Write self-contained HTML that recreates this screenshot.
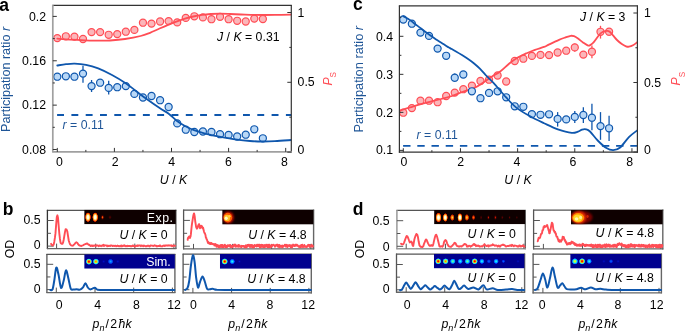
<!DOCTYPE html>
<html><head><meta charset="utf-8"><style>html,body{margin:0;padding:0;background:#fff;width:685px;height:332px;overflow:hidden}svg{display:block;will-change:transform}</style></head>
<body>
<svg width="685" height="332" viewBox="0 0 685 332" font-family='"Liberation Sans", sans-serif'>
<rect width="685" height="332" fill="#fff"/>
<defs>
<filter id="bl1" x="-50%" y="-50%" width="200%" height="200%"><feGaussianBlur stdDeviation="0.6"/></filter>
<filter id="bl2" x="-50%" y="-50%" width="200%" height="200%"><feGaussianBlur stdDeviation="1.0"/></filter>
<radialGradient id="jetR"><stop offset="0" stop-color="#c00000"/><stop offset="0.25" stop-color="#ff3000"/><stop offset="0.45" stop-color="#ffd000"/><stop offset="0.65" stop-color="#40ffc0"/><stop offset="0.85" stop-color="#0060ff"/><stop offset="1" stop-color="#00008f" stop-opacity="0"/></radialGradient>
<radialGradient id="jetO"><stop offset="0" stop-color="#ff6000"/><stop offset="0.3" stop-color="#ffd000"/><stop offset="0.6" stop-color="#40ffc0"/><stop offset="0.85" stop-color="#0060ff"/><stop offset="1" stop-color="#00008f" stop-opacity="0"/></radialGradient>
<radialGradient id="jetY"><stop offset="0" stop-color="#f0ff10"/><stop offset="0.35" stop-color="#a0ff60"/><stop offset="0.6" stop-color="#00e0ff"/><stop offset="0.85" stop-color="#0050ff"/><stop offset="1" stop-color="#00008f" stop-opacity="0"/></radialGradient>
<radialGradient id="jetC"><stop offset="0" stop-color="#30ffff"/><stop offset="0.45" stop-color="#00b0ff"/><stop offset="0.8" stop-color="#0030ff"/><stop offset="1" stop-color="#00008f" stop-opacity="0"/></radialGradient>
<radialGradient id="jetB"><stop offset="0" stop-color="#0070ff"/><stop offset="0.6" stop-color="#0020e0"/><stop offset="1" stop-color="#00008f" stop-opacity="0"/></radialGradient>
<radialGradient id="jetM"><stop offset="0" stop-color="#10a8ff"/><stop offset="0.5" stop-color="#0060ff"/><stop offset="0.85" stop-color="#0020d0"/><stop offset="1" stop-color="#00008f" stop-opacity="0"/></radialGradient>
<radialGradient id="jetG"><stop offset="0" stop-color="#90ff70"/><stop offset="0.35" stop-color="#20f0e0"/><stop offset="0.65" stop-color="#00a0ff"/><stop offset="0.88" stop-color="#0030f0"/><stop offset="1" stop-color="#00008f" stop-opacity="0"/></radialGradient>
<radialGradient id="jetD"><stop offset="0" stop-color="#0010d0"/><stop offset="1" stop-color="#00008f" stop-opacity="0"/></radialGradient>
<radialGradient id="hotW"><stop offset="0" stop-color="#ffffff"/><stop offset="0.35" stop-color="#fff8d8"/><stop offset="0.55" stop-color="#ffd050"/><stop offset="0.75" stop-color="#ff6000"/><stop offset="0.9" stop-color="#c01000"/><stop offset="1" stop-color="#1a0000" stop-opacity="0"/></radialGradient>
<radialGradient id="hotY"><stop offset="0" stop-color="#ffe060"/><stop offset="0.4" stop-color="#ff8000"/><stop offset="0.8" stop-color="#b01000"/><stop offset="1" stop-color="#1a0000" stop-opacity="0"/></radialGradient>
<radialGradient id="hotO"><stop offset="0" stop-color="#ff7000"/><stop offset="0.5" stop-color="#d02000"/><stop offset="1" stop-color="#1a0000" stop-opacity="0"/></radialGradient>
<radialGradient id="hotR"><stop offset="0" stop-color="#e01800"/><stop offset="1" stop-color="#1a0000" stop-opacity="0"/></radialGradient>
<radialGradient id="hotD"><stop offset="0" stop-color="#700000"/><stop offset="1" stop-color="#1a0000" stop-opacity="0"/></radialGradient>
</defs>
<line x1="57.10" y1="115.00" x2="291.30" y2="115.00" stroke="#0f57ad" stroke-width="1.80" stroke-dasharray="6.9 7.4"/>
<circle cx="57.30" cy="38.10" r="3.55" fill="#fbb6ba" stroke="#ff4d55" stroke-width="1.20"/>
<circle cx="65.86" cy="36.30" r="3.55" fill="#fbb6ba" stroke="#ff4d55" stroke-width="1.20"/>
<circle cx="74.43" cy="36.60" r="3.55" fill="#fbb6ba" stroke="#ff4d55" stroke-width="1.20"/>
<circle cx="82.99" cy="39.00" r="3.55" fill="#fbb6ba" stroke="#ff4d55" stroke-width="1.20"/>
<circle cx="91.56" cy="32.10" r="3.55" fill="#fbb6ba" stroke="#ff4d55" stroke-width="1.20"/>
<circle cx="100.12" cy="32.10" r="3.55" fill="#fbb6ba" stroke="#ff4d55" stroke-width="1.20"/>
<circle cx="108.69" cy="34.80" r="3.55" fill="#fbb6ba" stroke="#ff4d55" stroke-width="1.20"/>
<circle cx="117.25" cy="34.10" r="3.55" fill="#fbb6ba" stroke="#ff4d55" stroke-width="1.20"/>
<circle cx="125.82" cy="31.70" r="3.55" fill="#fbb6ba" stroke="#ff4d55" stroke-width="1.20"/>
<circle cx="134.38" cy="29.90" r="3.55" fill="#fbb6ba" stroke="#ff4d55" stroke-width="1.20"/>
<circle cx="142.95" cy="22.70" r="3.55" fill="#fbb6ba" stroke="#ff4d55" stroke-width="1.20"/>
<circle cx="151.51" cy="23.60" r="3.55" fill="#fbb6ba" stroke="#ff4d55" stroke-width="1.20"/>
<circle cx="160.08" cy="21.50" r="3.55" fill="#fbb6ba" stroke="#ff4d55" stroke-width="1.20"/>
<circle cx="168.64" cy="21.10" r="3.55" fill="#fbb6ba" stroke="#ff4d55" stroke-width="1.20"/>
<circle cx="177.21" cy="22.40" r="3.55" fill="#fbb6ba" stroke="#ff4d55" stroke-width="1.20"/>
<circle cx="185.77" cy="17.90" r="3.55" fill="#fbb6ba" stroke="#ff4d55" stroke-width="1.20"/>
<circle cx="194.34" cy="16.30" r="3.55" fill="#fbb6ba" stroke="#ff4d55" stroke-width="1.20"/>
<circle cx="202.90" cy="17.40" r="3.55" fill="#fbb6ba" stroke="#ff4d55" stroke-width="1.20"/>
<circle cx="211.47" cy="19.20" r="3.55" fill="#fbb6ba" stroke="#ff4d55" stroke-width="1.20"/>
<circle cx="220.04" cy="16.80" r="3.55" fill="#fbb6ba" stroke="#ff4d55" stroke-width="1.20"/>
<circle cx="228.60" cy="19.20" r="3.55" fill="#fbb6ba" stroke="#ff4d55" stroke-width="1.20"/>
<circle cx="237.17" cy="20.80" r="3.55" fill="#fbb6ba" stroke="#ff4d55" stroke-width="1.20"/>
<circle cx="245.73" cy="21.50" r="3.55" fill="#fbb6ba" stroke="#ff4d55" stroke-width="1.20"/>
<circle cx="254.29" cy="18.60" r="3.55" fill="#fbb6ba" stroke="#ff4d55" stroke-width="1.20"/>
<circle cx="262.86" cy="19.00" r="3.55" fill="#fbb6ba" stroke="#ff4d55" stroke-width="1.20"/>
<clipPath id="cla"><rect x="52.8" y="5.4" width="238.5" height="146.5"/></clipPath>
<g clip-path="url(#cla)">
<path d="M57.30,38.60 C59.42,38.77 65.38,39.32 70.00,39.60 C74.62,39.88 80.00,40.12 85.00,40.30 C90.00,40.48 95.83,40.67 100.00,40.70 C104.17,40.73 105.83,40.78 110.00,40.50 C114.17,40.22 119.90,39.75 125.00,39.00 C130.10,38.25 136.43,37.03 140.60,36.00 C144.77,34.97 147.08,33.93 150.00,32.80 C152.92,31.67 155.27,30.45 158.10,29.20 C160.93,27.95 164.08,26.53 167.00,25.30 C169.92,24.07 172.60,22.92 175.60,21.80 C178.60,20.68 182.07,19.48 185.00,18.60 C187.93,17.72 190.37,17.12 193.20,16.50 C196.03,15.88 199.08,15.32 202.00,14.90 C204.92,14.48 207.70,14.20 210.70,14.00 C213.70,13.80 216.78,13.70 220.00,13.70 C223.22,13.70 225.83,13.83 230.00,14.00 C234.17,14.17 239.47,14.53 245.00,14.70 C250.53,14.87 257.37,14.98 263.20,15.00 C269.03,15.02 275.27,14.85 280.00,14.80 C284.73,14.75 289.67,14.72 291.60,14.70" fill="none" stroke="#ff4d55" stroke-width="1.80" stroke-linejoin="round" stroke-linecap="round" />
</g>
<line x1="74.43" y1="74.20" x2="74.43" y2="79.60" stroke="#0f57ad" stroke-width="1.30" />
<line x1="82.99" y1="65.80" x2="82.99" y2="82.80" stroke="#0f57ad" stroke-width="1.30" />
<line x1="91.56" y1="80.00" x2="91.56" y2="92.00" stroke="#0f57ad" stroke-width="1.30" />
<line x1="108.69" y1="80.80" x2="108.69" y2="94.40" stroke="#0f57ad" stroke-width="1.30" />
<line x1="125.82" y1="83.00" x2="125.82" y2="89.50" stroke="#0f57ad" stroke-width="1.30" />
<circle cx="57.30" cy="76.70" r="3.55" fill="#b9d8f7" stroke="#0f57ad" stroke-width="1.20"/>
<circle cx="65.86" cy="76.30" r="3.55" fill="#b9d8f7" stroke="#0f57ad" stroke-width="1.20"/>
<circle cx="74.43" cy="76.70" r="3.55" fill="#b9d8f7" stroke="#0f57ad" stroke-width="1.20"/>
<circle cx="82.99" cy="73.60" r="3.55" fill="#b9d8f7" stroke="#0f57ad" stroke-width="1.20"/>
<circle cx="91.56" cy="86.10" r="3.55" fill="#b9d8f7" stroke="#0f57ad" stroke-width="1.20"/>
<circle cx="100.12" cy="82.70" r="3.55" fill="#b9d8f7" stroke="#0f57ad" stroke-width="1.20"/>
<circle cx="108.69" cy="87.90" r="3.55" fill="#b9d8f7" stroke="#0f57ad" stroke-width="1.20"/>
<circle cx="117.25" cy="87.20" r="3.55" fill="#b9d8f7" stroke="#0f57ad" stroke-width="1.20"/>
<circle cx="125.82" cy="86.10" r="3.55" fill="#b9d8f7" stroke="#0f57ad" stroke-width="1.20"/>
<circle cx="134.38" cy="93.90" r="3.55" fill="#b9d8f7" stroke="#0f57ad" stroke-width="1.20"/>
<circle cx="142.95" cy="97.50" r="3.55" fill="#b9d8f7" stroke="#0f57ad" stroke-width="1.20"/>
<circle cx="151.51" cy="96.00" r="3.55" fill="#b9d8f7" stroke="#0f57ad" stroke-width="1.20"/>
<circle cx="160.08" cy="100.20" r="3.55" fill="#b9d8f7" stroke="#0f57ad" stroke-width="1.20"/>
<circle cx="168.64" cy="107.00" r="3.55" fill="#b9d8f7" stroke="#0f57ad" stroke-width="1.20"/>
<circle cx="177.21" cy="123.40" r="3.55" fill="#b9d8f7" stroke="#0f57ad" stroke-width="1.20"/>
<circle cx="185.77" cy="129.70" r="3.55" fill="#b9d8f7" stroke="#0f57ad" stroke-width="1.20"/>
<circle cx="194.34" cy="132.00" r="3.55" fill="#b9d8f7" stroke="#0f57ad" stroke-width="1.20"/>
<circle cx="202.90" cy="131.50" r="3.55" fill="#b9d8f7" stroke="#0f57ad" stroke-width="1.20"/>
<circle cx="211.47" cy="132.00" r="3.55" fill="#b9d8f7" stroke="#0f57ad" stroke-width="1.20"/>
<circle cx="220.04" cy="134.20" r="3.55" fill="#b9d8f7" stroke="#0f57ad" stroke-width="1.20"/>
<circle cx="228.60" cy="134.90" r="3.55" fill="#b9d8f7" stroke="#0f57ad" stroke-width="1.20"/>
<circle cx="237.17" cy="136.50" r="3.55" fill="#b9d8f7" stroke="#0f57ad" stroke-width="1.20"/>
<circle cx="245.73" cy="134.70" r="3.55" fill="#b9d8f7" stroke="#0f57ad" stroke-width="1.20"/>
<circle cx="254.29" cy="129.30" r="3.55" fill="#b9d8f7" stroke="#0f57ad" stroke-width="1.20"/>
<circle cx="262.86" cy="138.30" r="3.55" fill="#b9d8f7" stroke="#0f57ad" stroke-width="1.20"/>
<g clip-path="url(#cla)">
<path d="M57.30,65.50 C58.75,65.28 63.10,64.52 66.00,64.20 C68.90,63.88 71.37,63.50 74.70,63.60 C78.03,63.70 82.08,64.00 86.00,64.80 C89.92,65.60 93.87,66.70 98.20,68.40 C102.53,70.10 107.48,72.57 112.00,75.00 C116.52,77.43 121.30,80.33 125.30,83.00 C129.30,85.67 132.38,88.28 136.00,91.00 C139.62,93.72 143.00,96.42 147.00,99.30 C151.00,102.18 156.38,105.90 160.00,108.30 C163.62,110.70 165.87,111.58 168.70,113.70 C171.53,115.82 174.28,118.95 177.00,121.00 C179.72,123.05 182.17,124.47 185.00,126.00 C187.83,127.53 190.50,128.90 194.00,130.20 C197.50,131.50 201.77,132.73 206.00,133.80 C210.23,134.87 214.25,135.63 219.40,136.60 C224.55,137.57 231.80,138.87 236.90,139.60 C242.00,140.33 245.87,140.68 250.00,141.00 C254.13,141.32 257.53,141.47 261.70,141.50 C265.87,141.53 270.02,141.45 275.00,141.20 C279.98,140.95 288.83,140.20 291.60,140.00" fill="none" stroke="#0f57ad" stroke-width="1.80" stroke-linejoin="round" stroke-linecap="round" />
</g>
<line x1="52.30" y1="5.40" x2="291.80" y2="5.40" stroke="#333333" stroke-width="1.20" />
<line x1="291.30" y1="4.90" x2="291.30" y2="152.40" stroke="#333333" stroke-width="1.20" />
<line x1="52.80" y1="4.90" x2="52.80" y2="152.40" stroke="#a0a0a0" stroke-width="1.70" />
<line x1="52.30" y1="151.90" x2="291.80" y2="151.90" stroke="#a0a0a0" stroke-width="1.60" />
<line x1="52.80" y1="16.40" x2="56.80" y2="16.40" stroke="#333333" stroke-width="1.00" />
<line x1="52.80" y1="60.77" x2="56.80" y2="60.77" stroke="#333333" stroke-width="1.00" />
<line x1="52.80" y1="105.14" x2="56.80" y2="105.14" stroke="#333333" stroke-width="1.00" />
<line x1="52.80" y1="149.51" x2="56.80" y2="149.51" stroke="#333333" stroke-width="1.00" />
<line x1="52.80" y1="38.59" x2="54.80" y2="38.59" stroke="#333333" stroke-width="1.00" />
<line x1="52.80" y1="82.95" x2="54.80" y2="82.95" stroke="#333333" stroke-width="1.00" />
<line x1="52.80" y1="127.32" x2="54.80" y2="127.32" stroke="#333333" stroke-width="1.00" />
<line x1="287.30" y1="12.50" x2="291.30" y2="12.50" stroke="#333333" stroke-width="1.00" />
<line x1="287.30" y1="82.30" x2="291.30" y2="82.30" stroke="#333333" stroke-width="1.00" />
<line x1="287.30" y1="152.10" x2="291.30" y2="152.10" stroke="#333333" stroke-width="1.00" />
<line x1="289.30" y1="47.40" x2="291.30" y2="47.40" stroke="#333333" stroke-width="1.00" />
<line x1="289.30" y1="117.20" x2="291.30" y2="117.20" stroke="#333333" stroke-width="1.00" />
<line x1="57.30" y1="147.90" x2="57.30" y2="151.90" stroke="#333333" stroke-width="1.00" />
<line x1="114.40" y1="147.90" x2="114.40" y2="151.90" stroke="#333333" stroke-width="1.00" />
<line x1="171.50" y1="147.90" x2="171.50" y2="151.90" stroke="#333333" stroke-width="1.00" />
<line x1="228.60" y1="147.90" x2="228.60" y2="151.90" stroke="#333333" stroke-width="1.00" />
<line x1="285.70" y1="147.90" x2="285.70" y2="151.90" stroke="#333333" stroke-width="1.00" />
<line x1="85.85" y1="149.90" x2="85.85" y2="151.90" stroke="#333333" stroke-width="1.00" />
<line x1="142.95" y1="149.90" x2="142.95" y2="151.90" stroke="#333333" stroke-width="1.00" />
<line x1="200.05" y1="149.90" x2="200.05" y2="151.90" stroke="#333333" stroke-width="1.00" />
<line x1="257.15" y1="149.90" x2="257.15" y2="151.90" stroke="#333333" stroke-width="1.00" />
<text x="46.00" y="20.60" font-size="12.30" text-anchor="end" fill="#000" >0.2</text>
<text x="46.00" y="64.97" font-size="12.30" text-anchor="end" fill="#000" >0.16</text>
<text x="46.00" y="109.34" font-size="12.30" text-anchor="end" fill="#000" >0.12</text>
<text x="46.00" y="153.71" font-size="12.30" text-anchor="end" fill="#000" >0.08</text>
<text x="297.60" y="16.90" font-size="12.30" text-anchor="start" fill="#000" >1</text>
<text x="297.60" y="85.90" font-size="12.30" text-anchor="start" fill="#000" >0.5</text>
<text x="297.60" y="153.90" font-size="12.30" text-anchor="start" fill="#000" >0</text>
<text x="59.30" y="165.60" font-size="12.30" text-anchor="middle" fill="#000" >0</text>
<text x="115.20" y="165.60" font-size="12.30" text-anchor="middle" fill="#000" >2</text>
<text x="171.60" y="165.60" font-size="12.30" text-anchor="middle" fill="#000" >4</text>
<text x="228.30" y="165.60" font-size="12.30" text-anchor="middle" fill="#000" >6</text>
<text x="284.30" y="165.60" font-size="12.30" text-anchor="middle" fill="#000" >8</text>
<text x="173.50" y="184.30" font-size="12.30" text-anchor="middle" fill="#000" ><tspan font-style="italic">U</tspan> / <tspan font-style="italic">K</tspan></text>
<text x="217.00" y="40.80" font-size="12.30" text-anchor="start" fill="#000" ><tspan font-style="italic">J</tspan> / <tspan font-style="italic">K</tspan> = 0.31</text>
<text x="62.60" y="128.90" font-size="12.30" text-anchor="start" fill="#1f5597" ><tspan font-style="italic">r</tspan> = 0.11</text>
<text transform="translate(10.0,131.9) rotate(-90)" font-size="12.6" fill="#1f5597">Participation ratio <tspan font-style="italic">r</tspan></text>
<text transform="translate(331.6,85.6) rotate(-90)" font-size="12.3" fill="#ff4d55"><tspan font-style="italic">P</tspan><tspan font-size="8.2" dy="4.6">S</tspan></text>
<line x1="403.10" y1="145.90" x2="637.40" y2="145.90" stroke="#0f57ad" stroke-width="1.80" stroke-dasharray="7.4 6.8"/>
<clipPath id="clc"><rect x="399.4" y="5.9" width="238.0" height="146.3"/></clipPath>
<line x1="574.78" y1="43.40" x2="574.78" y2="51.80" stroke="#ff4d55" stroke-width="1.30" />
<line x1="591.93" y1="45.50" x2="591.93" y2="58.30" stroke="#ff4d55" stroke-width="1.30" />
<line x1="600.50" y1="25.80" x2="600.50" y2="38.60" stroke="#ff4d55" stroke-width="1.30" />
<line x1="609.08" y1="28.80" x2="609.08" y2="36.00" stroke="#ff4d55" stroke-width="1.30" />
<circle cx="403.30" cy="112.70" r="3.55" fill="#fbb6ba" stroke="#ff4d55" stroke-width="1.20"/>
<circle cx="411.87" cy="108.10" r="3.55" fill="#fbb6ba" stroke="#ff4d55" stroke-width="1.20"/>
<circle cx="420.45" cy="100.70" r="3.55" fill="#fbb6ba" stroke="#ff4d55" stroke-width="1.20"/>
<circle cx="429.02" cy="100.70" r="3.55" fill="#fbb6ba" stroke="#ff4d55" stroke-width="1.20"/>
<circle cx="437.60" cy="102.20" r="3.55" fill="#fbb6ba" stroke="#ff4d55" stroke-width="1.20"/>
<circle cx="446.17" cy="96.00" r="3.55" fill="#fbb6ba" stroke="#ff4d55" stroke-width="1.20"/>
<circle cx="454.74" cy="92.60" r="3.55" fill="#fbb6ba" stroke="#ff4d55" stroke-width="1.20"/>
<circle cx="463.32" cy="89.20" r="3.55" fill="#fbb6ba" stroke="#ff4d55" stroke-width="1.20"/>
<circle cx="471.89" cy="85.60" r="3.55" fill="#fbb6ba" stroke="#ff4d55" stroke-width="1.20"/>
<circle cx="480.47" cy="81.00" r="3.55" fill="#fbb6ba" stroke="#ff4d55" stroke-width="1.20"/>
<circle cx="489.04" cy="79.70" r="3.55" fill="#fbb6ba" stroke="#ff4d55" stroke-width="1.20"/>
<circle cx="497.61" cy="75.50" r="3.55" fill="#fbb6ba" stroke="#ff4d55" stroke-width="1.20"/>
<circle cx="506.19" cy="81.50" r="3.55" fill="#fbb6ba" stroke="#ff4d55" stroke-width="1.20"/>
<circle cx="514.76" cy="61.00" r="3.55" fill="#fbb6ba" stroke="#ff4d55" stroke-width="1.20"/>
<circle cx="523.34" cy="58.70" r="3.55" fill="#fbb6ba" stroke="#ff4d55" stroke-width="1.20"/>
<circle cx="531.91" cy="55.90" r="3.55" fill="#fbb6ba" stroke="#ff4d55" stroke-width="1.20"/>
<circle cx="540.48" cy="54.90" r="3.55" fill="#fbb6ba" stroke="#ff4d55" stroke-width="1.20"/>
<circle cx="549.06" cy="55.10" r="3.55" fill="#fbb6ba" stroke="#ff4d55" stroke-width="1.20"/>
<circle cx="557.63" cy="52.50" r="3.55" fill="#fbb6ba" stroke="#ff4d55" stroke-width="1.20"/>
<circle cx="566.21" cy="50.70" r="3.55" fill="#fbb6ba" stroke="#ff4d55" stroke-width="1.20"/>
<circle cx="574.78" cy="47.40" r="3.55" fill="#fbb6ba" stroke="#ff4d55" stroke-width="1.20"/>
<circle cx="583.35" cy="54.60" r="3.55" fill="#fbb6ba" stroke="#ff4d55" stroke-width="1.20"/>
<circle cx="591.93" cy="51.70" r="3.55" fill="#fbb6ba" stroke="#ff4d55" stroke-width="1.20"/>
<circle cx="600.50" cy="31.80" r="3.55" fill="#fbb6ba" stroke="#ff4d55" stroke-width="1.20"/>
<circle cx="609.08" cy="31.70" r="3.55" fill="#fbb6ba" stroke="#ff4d55" stroke-width="1.20"/>
<g clip-path="url(#clc)">
<path d="M399.60,110.60 C401.33,110.07 406.60,108.45 410.00,107.40 C413.40,106.35 416.67,105.23 420.00,104.30 C423.33,103.37 426.47,102.68 430.00,101.80 C433.53,100.92 437.53,99.97 441.20,99.00 C444.87,98.03 448.48,97.17 452.00,96.00 C455.52,94.83 458.52,93.37 462.30,92.00 C466.08,90.63 471.18,89.38 474.70,87.80 C478.22,86.22 480.52,84.40 483.40,82.50 C486.28,80.60 489.20,78.23 492.00,76.40 C494.80,74.57 497.32,73.65 500.20,71.50 C503.08,69.35 506.50,65.75 509.30,63.50 C512.10,61.25 514.10,59.72 517.00,58.00 C519.90,56.28 523.70,54.57 526.70,53.20 C529.70,51.83 532.12,50.85 535.00,49.80 C537.88,48.75 541.70,47.77 544.00,46.90 C546.30,46.03 546.30,45.77 548.80,44.60 C551.30,43.43 556.30,41.07 559.00,39.90 C561.70,38.73 563.05,38.28 565.00,37.60 C566.95,36.92 569.20,36.03 570.70,35.80 C572.20,35.57 572.78,35.75 574.00,36.20 C575.22,36.65 576.50,37.45 578.00,38.50 C579.50,39.55 581.30,41.32 583.00,42.50 C584.70,43.68 586.87,45.25 588.20,45.60 C589.53,45.95 590.03,45.22 591.00,44.60 C591.97,43.98 592.52,43.67 594.00,41.90 C595.48,40.13 598.40,35.68 599.90,34.00 C601.40,32.32 601.78,32.33 603.00,31.80 C604.22,31.27 606.03,30.77 607.20,30.80 C608.37,30.83 609.03,31.23 610.00,32.00 C610.97,32.77 611.83,34.07 613.00,35.40 C614.17,36.73 615.53,38.55 617.00,40.00 C618.47,41.45 620.30,43.05 621.80,44.10 C623.30,45.15 624.80,45.87 626.00,46.30 C627.20,46.73 627.83,46.87 629.00,46.70 C630.17,46.53 631.57,46.10 633.00,45.30 C634.43,44.50 636.83,42.47 637.60,41.90" fill="none" stroke="#ff4d55" stroke-width="1.80" stroke-linejoin="round" stroke-linecap="round" />
</g>
<line x1="454.74" y1="73.50" x2="454.74" y2="82.00" stroke="#0f57ad" stroke-width="1.30" />
<line x1="557.63" y1="112.10" x2="557.63" y2="126.60" stroke="#0f57ad" stroke-width="1.30" />
<line x1="566.21" y1="116.00" x2="566.21" y2="123.00" stroke="#0f57ad" stroke-width="1.30" />
<line x1="574.78" y1="110.90" x2="574.78" y2="123.00" stroke="#0f57ad" stroke-width="1.30" />
<line x1="583.35" y1="107.30" x2="583.35" y2="123.00" stroke="#0f57ad" stroke-width="1.30" />
<line x1="591.93" y1="103.70" x2="591.93" y2="130.20" stroke="#0f57ad" stroke-width="1.30" />
<line x1="600.50" y1="112.10" x2="600.50" y2="139.80" stroke="#0f57ad" stroke-width="1.30" />
<line x1="609.08" y1="115.70" x2="609.08" y2="141.00" stroke="#0f57ad" stroke-width="1.30" />
<circle cx="403.30" cy="19.50" r="3.55" fill="#b9d8f7" stroke="#0f57ad" stroke-width="1.20"/>
<circle cx="411.87" cy="23.70" r="3.55" fill="#b9d8f7" stroke="#0f57ad" stroke-width="1.20"/>
<circle cx="420.45" cy="32.60" r="3.55" fill="#b9d8f7" stroke="#0f57ad" stroke-width="1.20"/>
<circle cx="429.02" cy="35.90" r="3.55" fill="#b9d8f7" stroke="#0f57ad" stroke-width="1.20"/>
<circle cx="437.60" cy="48.60" r="3.55" fill="#b9d8f7" stroke="#0f57ad" stroke-width="1.20"/>
<circle cx="446.17" cy="55.80" r="3.55" fill="#b9d8f7" stroke="#0f57ad" stroke-width="1.20"/>
<circle cx="454.74" cy="77.70" r="3.55" fill="#b9d8f7" stroke="#0f57ad" stroke-width="1.20"/>
<circle cx="463.32" cy="74.50" r="3.55" fill="#b9d8f7" stroke="#0f57ad" stroke-width="1.20"/>
<circle cx="471.89" cy="91.30" r="3.55" fill="#b9d8f7" stroke="#0f57ad" stroke-width="1.20"/>
<circle cx="480.47" cy="98.20" r="3.55" fill="#b9d8f7" stroke="#0f57ad" stroke-width="1.20"/>
<circle cx="489.04" cy="92.90" r="3.55" fill="#b9d8f7" stroke="#0f57ad" stroke-width="1.20"/>
<circle cx="497.61" cy="91.30" r="3.55" fill="#b9d8f7" stroke="#0f57ad" stroke-width="1.20"/>
<circle cx="506.19" cy="97.30" r="3.55" fill="#b9d8f7" stroke="#0f57ad" stroke-width="1.20"/>
<circle cx="514.76" cy="106.30" r="3.55" fill="#b9d8f7" stroke="#0f57ad" stroke-width="1.20"/>
<circle cx="523.34" cy="106.80" r="3.55" fill="#b9d8f7" stroke="#0f57ad" stroke-width="1.20"/>
<circle cx="531.91" cy="114.10" r="3.55" fill="#b9d8f7" stroke="#0f57ad" stroke-width="1.20"/>
<circle cx="540.48" cy="114.80" r="3.55" fill="#b9d8f7" stroke="#0f57ad" stroke-width="1.20"/>
<circle cx="549.06" cy="114.30" r="3.55" fill="#b9d8f7" stroke="#0f57ad" stroke-width="1.20"/>
<circle cx="557.63" cy="118.90" r="3.55" fill="#b9d8f7" stroke="#0f57ad" stroke-width="1.20"/>
<circle cx="566.21" cy="119.40" r="3.55" fill="#b9d8f7" stroke="#0f57ad" stroke-width="1.20"/>
<circle cx="574.78" cy="116.90" r="3.55" fill="#b9d8f7" stroke="#0f57ad" stroke-width="1.20"/>
<circle cx="583.35" cy="115.00" r="3.55" fill="#b9d8f7" stroke="#0f57ad" stroke-width="1.20"/>
<circle cx="591.93" cy="117.70" r="3.55" fill="#b9d8f7" stroke="#0f57ad" stroke-width="1.20"/>
<circle cx="600.50" cy="126.10" r="3.55" fill="#b9d8f7" stroke="#0f57ad" stroke-width="1.20"/>
<circle cx="609.08" cy="128.30" r="3.55" fill="#b9d8f7" stroke="#0f57ad" stroke-width="1.20"/>
<g clip-path="url(#clc)">
<path d="M403.30,16.20 C404.08,16.63 406.55,17.90 408.00,18.80 C409.45,19.70 410.83,20.73 412.00,21.60 C413.17,22.47 413.62,22.95 415.00,24.00 C416.38,25.05 418.53,26.57 420.30,27.90 C422.07,29.23 423.85,30.68 425.60,32.00 C427.35,33.32 429.05,34.55 430.80,35.80 C432.55,37.05 434.33,38.33 436.10,39.50 C437.87,40.67 439.63,41.68 441.40,42.80 C443.17,43.92 445.27,45.32 446.70,46.20 C448.13,47.08 448.45,47.22 450.00,48.10 C451.55,48.98 454.00,50.33 456.00,51.50 C458.00,52.67 459.98,53.85 462.00,55.10 C464.02,56.35 466.08,57.60 468.10,59.00 C470.12,60.40 472.10,61.85 474.10,63.50 C476.10,65.15 478.10,66.90 480.10,68.90 C482.10,70.90 484.58,73.88 486.10,75.50 C487.62,77.12 487.63,77.00 489.20,78.60 C490.77,80.20 492.72,82.00 495.50,85.10 C498.28,88.20 502.43,93.45 505.90,97.20 C509.37,100.95 512.27,104.42 516.30,107.60 C520.33,110.78 525.48,113.70 530.10,116.30 C534.72,118.90 539.37,121.02 544.00,123.20 C548.63,125.38 553.28,127.78 557.90,129.40 C562.52,131.02 568.35,132.53 571.70,132.90 C575.05,133.27 576.27,132.15 578.00,131.60 C579.73,131.05 580.77,129.98 582.10,129.60 C583.43,129.22 584.68,128.98 586.00,129.30 C587.32,129.62 588.05,129.63 590.00,131.50 C591.95,133.37 594.97,137.73 597.70,140.50 C600.43,143.27 603.80,146.48 606.40,148.10 C609.00,149.72 611.00,150.30 613.30,150.20 C615.60,150.10 617.60,149.68 620.20,147.50 C622.80,145.32 626.00,140.00 628.90,137.10 C631.80,134.20 636.15,131.27 637.60,130.10" fill="none" stroke="#0f57ad" stroke-width="1.80" stroke-linejoin="round" stroke-linecap="round" />
</g>
<line x1="398.90" y1="5.90" x2="637.90" y2="5.90" stroke="#333333" stroke-width="1.20" />
<line x1="637.40" y1="5.40" x2="637.40" y2="152.70" stroke="#333333" stroke-width="1.20" />
<line x1="399.40" y1="5.40" x2="399.40" y2="152.70" stroke="#333333" stroke-width="1.20" />
<line x1="398.90" y1="152.20" x2="637.90" y2="152.20" stroke="#333333" stroke-width="1.20" />
<line x1="399.40" y1="36.30" x2="403.40" y2="36.30" stroke="#333333" stroke-width="1.00" />
<line x1="399.40" y1="74.33" x2="403.40" y2="74.33" stroke="#333333" stroke-width="1.00" />
<line x1="399.40" y1="112.36" x2="403.40" y2="112.36" stroke="#333333" stroke-width="1.00" />
<line x1="399.40" y1="150.39" x2="403.40" y2="150.39" stroke="#333333" stroke-width="1.00" />
<line x1="399.40" y1="17.29" x2="401.40" y2="17.29" stroke="#333333" stroke-width="1.00" />
<line x1="399.40" y1="55.32" x2="401.40" y2="55.32" stroke="#333333" stroke-width="1.00" />
<line x1="399.40" y1="93.34" x2="401.40" y2="93.34" stroke="#333333" stroke-width="1.00" />
<line x1="399.40" y1="131.38" x2="401.40" y2="131.38" stroke="#333333" stroke-width="1.00" />
<line x1="633.40" y1="13.00" x2="637.40" y2="13.00" stroke="#333333" stroke-width="1.00" />
<line x1="633.40" y1="82.50" x2="637.40" y2="82.50" stroke="#333333" stroke-width="1.00" />
<line x1="633.40" y1="152.00" x2="637.40" y2="152.00" stroke="#333333" stroke-width="1.00" />
<line x1="635.40" y1="47.75" x2="637.40" y2="47.75" stroke="#333333" stroke-width="1.00" />
<line x1="635.40" y1="117.25" x2="637.40" y2="117.25" stroke="#333333" stroke-width="1.00" />
<line x1="403.30" y1="148.20" x2="403.30" y2="152.20" stroke="#333333" stroke-width="1.00" />
<line x1="460.46" y1="148.20" x2="460.46" y2="152.20" stroke="#333333" stroke-width="1.00" />
<line x1="517.62" y1="148.20" x2="517.62" y2="152.20" stroke="#333333" stroke-width="1.00" />
<line x1="574.78" y1="148.20" x2="574.78" y2="152.20" stroke="#333333" stroke-width="1.00" />
<line x1="631.94" y1="148.20" x2="631.94" y2="152.20" stroke="#333333" stroke-width="1.00" />
<line x1="431.88" y1="150.20" x2="431.88" y2="152.20" stroke="#333333" stroke-width="1.00" />
<line x1="489.04" y1="150.20" x2="489.04" y2="152.20" stroke="#333333" stroke-width="1.00" />
<line x1="546.20" y1="150.20" x2="546.20" y2="152.20" stroke="#333333" stroke-width="1.00" />
<line x1="603.36" y1="150.20" x2="603.36" y2="152.20" stroke="#333333" stroke-width="1.00" />
<text x="393.00" y="40.50" font-size="12.30" text-anchor="end" fill="#000" >0.4</text>
<text x="393.00" y="78.53" font-size="12.30" text-anchor="end" fill="#000" >0.3</text>
<text x="393.00" y="116.56" font-size="12.30" text-anchor="end" fill="#000" >0.2</text>
<text x="393.00" y="153.59" font-size="12.30" text-anchor="end" fill="#000" >0.1</text>
<text x="644.00" y="17.00" font-size="12.30" text-anchor="start" fill="#000" >1</text>
<text x="644.00" y="86.50" font-size="12.30" text-anchor="start" fill="#000" >0.5</text>
<text x="644.00" y="153.80" font-size="12.30" text-anchor="start" fill="#000" >0</text>
<text x="404.00" y="165.60" font-size="12.30" text-anchor="middle" fill="#000" >0</text>
<text x="460.75" y="165.60" font-size="12.30" text-anchor="middle" fill="#000" >2</text>
<text x="516.90" y="165.60" font-size="12.30" text-anchor="middle" fill="#000" >4</text>
<text x="572.80" y="165.60" font-size="12.30" text-anchor="middle" fill="#000" >6</text>
<text x="629.70" y="165.60" font-size="12.30" text-anchor="middle" fill="#000" >8</text>
<text x="518.00" y="184.30" font-size="12.30" text-anchor="middle" fill="#000" ><tspan font-style="italic">U</tspan> / <tspan font-style="italic">K</tspan></text>
<text x="580.00" y="21.30" font-size="12.30" text-anchor="start" fill="#000" ><tspan font-style="italic">J</tspan> / <tspan font-style="italic">K</tspan> = 3</text>
<text x="416.60" y="138.50" font-size="12.30" text-anchor="start" fill="#1f5597" ><tspan font-style="italic">r</tspan> = 0.11</text>
<text transform="translate(363.4,132.6) rotate(-90)" font-size="12.8" fill="#1f5597">Participation ratio <tspan font-style="italic">r</tspan></text>
<text transform="translate(680.0,85.5) rotate(-90)" font-size="12.3" fill="#ff4d55"><tspan font-style="italic">P</tspan><tspan font-size="8.2" dy="4.6">S</tspan></text>
<text x="-0.8" y="10.6" font-size="17.5" font-weight="bold">a</text>
<text x="353.0" y="9.6" font-size="17.5" font-weight="bold">c</text>
<text x="2.7" y="215.4" font-size="17.5" font-weight="bold">b</text>
<text x="352.8" y="214.8" font-size="17.5" font-weight="bold">d</text>
<line x1="46.90" y1="210.30" x2="176.40" y2="210.30" stroke="#555555" stroke-width="1.30" />
<line x1="175.90" y1="209.80" x2="175.90" y2="249.10" stroke="#666666" stroke-width="1.40" />
<line x1="47.40" y1="209.80" x2="47.40" y2="249.10" stroke="#333333" stroke-width="1.30" />
<line x1="46.90" y1="248.60" x2="176.40" y2="248.60" stroke="#666666" stroke-width="1.40" />
<line x1="47.40" y1="246.10" x2="53.70" y2="246.10" stroke="#555555" stroke-width="1.00" />
<line x1="47.40" y1="220.50" x2="53.70" y2="220.50" stroke="#555555" stroke-width="1.00" />
<line x1="47.40" y1="233.30" x2="50.90" y2="233.30" stroke="#555555" stroke-width="1.00" />
<line x1="56.60" y1="243.60" x2="56.60" y2="248.60" stroke="#555555" stroke-width="1.00" />
<line x1="95.70" y1="243.60" x2="95.70" y2="248.60" stroke="#555555" stroke-width="1.00" />
<line x1="134.80" y1="243.60" x2="134.80" y2="248.60" stroke="#555555" stroke-width="1.00" />
<line x1="173.90" y1="243.60" x2="173.90" y2="248.60" stroke="#555555" stroke-width="1.00" />
<path d="M51.10,243.84 L51.56,244.73 L52.23,245.46 L52.96,245.36 L53.60,244.69 L54.30,241.68 L54.93,237.64 L55.50,233.19 L56.19,224.15 L56.80,217.13 L57.40,215.29 L58.00,217.77 L58.64,225.50 L59.30,233.32 L59.91,238.72 L60.60,242.83 L61.21,243.49 L61.90,243.88 L62.50,243.73 L63.10,242.42 L63.70,239.74 L64.29,236.09 L64.96,232.12 L65.60,229.27 L66.47,229.42 L67.30,231.42 L68.04,236.23 L68.80,240.78 L69.38,242.51 L70.01,244.10 L70.70,245.04 L71.27,245.40 L71.87,245.62 L72.51,245.68 L73.20,245.47 L73.81,244.70 L74.46,244.23 L75.14,243.38 L75.79,242.54 L76.40,242.27 L77.06,242.70 L77.66,243.36 L78.25,244.45 L78.90,245.22 L79.49,245.15 L80.13,245.73 L80.77,245.93 L81.41,246.00 L82.00,245.61 L82.68,245.37 L83.31,245.09 L83.92,244.72 L84.50,244.39 L85.23,244.17 L85.92,243.83 L86.60,243.54 L87.27,243.53 L87.94,244.18 L88.60,244.81 L89.34,244.76 L90.08,245.61 L90.60,246.09 L91.00,245.69 L91.60,245.48 L92.20,246.08 L92.80,245.39 L93.40,245.94 L94.00,245.74 L94.60,245.37 L95.20,245.91 L95.80,245.34 L96.40,245.82 L97.00,245.38 L97.60,245.41 L98.20,245.81 L98.80,246.28 L99.40,245.43 L100.00,245.50 L100.60,245.91 L101.20,246.17 L101.80,245.57 L102.40,245.23 L103.00,245.87 L103.60,244.81 L104.20,245.91 L104.80,245.38 L105.40,245.33 L106.00,245.38 L106.60,245.65 L107.20,246.27 L107.80,245.51 L108.40,246.00 L109.00,246.07 L109.60,245.75 L110.20,245.96 L110.80,245.38 L111.40,245.37 L112.00,245.55 L112.60,246.12 L113.20,245.81 L113.80,245.68 L114.40,246.00 L115.00,245.84 L115.60,245.66 L116.20,246.25 L116.80,246.14 L117.40,245.59 L118.00,245.99 L118.60,245.93 L119.20,246.35 L119.80,246.18 L120.40,245.65 L121.00,246.48 L121.60,245.44 L122.20,245.80 L122.80,246.21 L123.40,245.48 L124.00,245.89 L124.60,245.35 L125.20,246.10 L125.80,246.22 L126.40,245.99 L127.00,246.35 L127.60,245.68 L128.20,246.13 L128.80,246.01 L129.40,246.00 L130.00,245.85 L130.60,246.31 L131.20,246.43 L131.80,245.87 L132.40,246.10 L133.00,245.37 L133.60,246.14 L134.20,246.08 L134.80,246.49 L135.40,246.29 L136.00,245.64 L136.60,245.76 L137.20,246.10 L137.80,245.33 L138.40,245.85 L139.00,245.50 L139.60,245.44 L140.20,245.37 L140.80,246.22 L141.40,245.46 L142.00,245.60 L142.60,245.77 L143.20,246.35 L143.80,245.40 L144.40,245.84 L145.00,245.96 L145.60,246.36 L146.20,246.28 L146.80,246.34 L147.40,245.63 L148.00,245.80 L148.60,245.73 L149.20,246.36 L149.80,246.45 L150.40,245.48 L151.00,245.51 L151.60,245.58 L152.20,245.58 L152.80,245.88 L153.40,246.01 L154.00,245.62 L154.60,245.30 L155.20,245.80 L155.80,245.74 L156.40,245.98 L157.00,246.44 L157.60,246.13 L158.20,245.92 L158.80,246.04 L159.40,246.11 L160.00,245.36 L160.60,246.38 L161.20,246.24 L161.80,246.35 L162.40,246.26 L163.00,245.77 L163.60,245.78 L164.20,245.42 L164.80,246.06 L165.40,245.37 L166.00,245.38 L166.60,245.55 L167.20,245.49 L167.80,245.71 L168.40,245.36 L169.00,245.30 L169.60,245.48 L170.20,245.42 L170.80,245.74 L171.40,245.33 L172.00,246.35 L172.60,246.04 L173.20,245.48 L173.80,245.60 L174.40,245.72 L175.00,245.74" fill="none" stroke="#ff4d55" stroke-width="1.90" stroke-linejoin="round" stroke-linecap="round" />
<clipPath id="ins1"><rect x="84.20" y="209.70" width="91.70" height="14.60"/></clipPath>
<g clip-path="url(#ins1)">
<rect x="84.20" y="209.70" width="91.70" height="14.60" fill="#0e0000"/>
<ellipse cx="88.00" cy="217.20" rx="3.00" ry="5.00" fill="url(#hotW)" filter="url(#bl1)"/>
<ellipse cx="95.20" cy="217.20" rx="3.00" ry="5.00" fill="url(#hotW)" filter="url(#bl1)"/>
<ellipse cx="102.50" cy="217.30" rx="2.40" ry="3.20" fill="url(#hotR)" filter="url(#bl1)"/>
<ellipse cx="102.50" cy="217.30" rx="1.40" ry="2.00" fill="url(#hotO)" filter="url(#bl1)"/>
<ellipse cx="110.00" cy="217.30" rx="2.00" ry="2.60" fill="url(#hotD)" filter="url(#bl1)"/>
</g>
<text x="173.50" y="221.50" font-size="12.30" text-anchor="end" fill="#fff" letter-spacing="0.55">Exp.</text>
<text x="119.40" y="238.60" font-size="12.30" text-anchor="start" fill="#000" ><tspan font-style="italic">U</tspan> / <tspan font-style="italic">K</tspan> = 0</text>
<line x1="46.40" y1="254.40" x2="175.40" y2="254.40" stroke="#555555" stroke-width="1.30" />
<line x1="174.90" y1="253.90" x2="174.90" y2="293.10" stroke="#666666" stroke-width="1.40" />
<line x1="46.90" y1="253.90" x2="46.90" y2="293.10" stroke="#555555" stroke-width="1.30" />
<line x1="46.40" y1="292.60" x2="175.40" y2="292.60" stroke="#666666" stroke-width="1.40" />
<line x1="46.90" y1="289.60" x2="53.20" y2="289.60" stroke="#555555" stroke-width="1.00" />
<line x1="46.90" y1="264.30" x2="53.20" y2="264.30" stroke="#555555" stroke-width="1.00" />
<line x1="46.90" y1="276.95" x2="50.40" y2="276.95" stroke="#555555" stroke-width="1.00" />
<line x1="56.30" y1="287.60" x2="56.30" y2="292.60" stroke="#555555" stroke-width="1.00" />
<line x1="95.00" y1="287.60" x2="95.00" y2="292.60" stroke="#555555" stroke-width="1.00" />
<line x1="133.70" y1="287.60" x2="133.70" y2="292.60" stroke="#555555" stroke-width="1.00" />
<line x1="172.40" y1="287.60" x2="172.40" y2="292.60" stroke="#555555" stroke-width="1.00" />
<path d="M50.20,289.90 C50.58,289.82 51.83,290.88 52.50,289.40 C53.17,287.92 53.57,284.63 54.20,281.00 C54.83,277.37 55.58,268.68 56.30,267.60 C57.02,266.52 57.72,271.13 58.50,274.50 C59.28,277.87 60.15,286.72 61.00,287.80 C61.85,288.88 62.77,283.90 63.60,281.00 C64.43,278.10 65.20,270.82 66.00,270.40 C66.80,269.98 67.62,275.47 68.40,278.50 C69.18,281.53 69.93,286.75 70.70,288.60 C71.47,290.45 72.03,289.48 73.00,289.60 C73.97,289.72 75.33,289.30 76.50,289.30 C77.67,289.30 78.92,289.93 80.00,289.60 C81.08,289.27 82.10,288.35 83.00,287.30 C83.90,286.25 84.60,283.27 85.40,283.30 C86.20,283.33 87.03,286.48 87.80,287.50 C88.57,288.52 89.22,289.22 90.00,289.40 C90.78,289.58 91.70,288.87 92.50,288.60 C93.30,288.33 94.05,287.67 94.80,287.80 C95.55,287.93 96.13,289.05 97.00,289.40 C97.87,289.75 96.17,289.82 100.00,289.90 C103.83,289.98 107.60,289.90 120.00,289.90 C132.40,289.90 165.33,289.90 174.40,289.90" fill="none" stroke="#0f57ad" stroke-width="2.00" stroke-linejoin="round" stroke-linecap="round" />
<clipPath id="ins2"><rect x="84.20" y="254.20" width="90.70" height="14.50"/></clipPath>
<g clip-path="url(#ins2)">
<rect x="84.20" y="254.20" width="90.70" height="14.50" fill="#00008f"/>
<ellipse cx="88.90" cy="261.60" rx="3.40" ry="3.40" fill="url(#jetR)"/>
<ellipse cx="95.90" cy="261.60" rx="3.30" ry="3.30" fill="url(#jetO)"/>
<ellipse cx="103.70" cy="261.50" rx="2.20" ry="2.20" fill="url(#jetD)"/>
<ellipse cx="110.60" cy="261.50" rx="2.80" ry="2.80" fill="url(#jetM)"/>
<ellipse cx="117.80" cy="261.50" rx="2.30" ry="2.30" fill="url(#jetD)"/>
</g>
<text x="170.80" y="266.00" font-size="12.30" text-anchor="end" fill="#fff" >Sim.</text>
<text x="119.40" y="282.80" font-size="12.30" text-anchor="start" fill="#000" ><tspan font-style="italic">U</tspan> / <tspan font-style="italic">K</tspan> = 0</text>
<line x1="183.10" y1="210.10" x2="314.10" y2="210.10" stroke="#555555" stroke-width="1.30" />
<line x1="313.60" y1="209.60" x2="313.60" y2="249.40" stroke="#666666" stroke-width="1.40" />
<line x1="183.60" y1="209.60" x2="183.60" y2="249.40" stroke="#555555" stroke-width="1.30" />
<line x1="183.10" y1="248.90" x2="314.10" y2="248.90" stroke="#666666" stroke-width="1.40" />
<line x1="183.60" y1="246.20" x2="189.90" y2="246.20" stroke="#555555" stroke-width="1.00" />
<line x1="183.60" y1="220.40" x2="189.90" y2="220.40" stroke="#555555" stroke-width="1.00" />
<line x1="183.60" y1="233.30" x2="187.10" y2="233.30" stroke="#555555" stroke-width="1.00" />
<line x1="193.50" y1="243.90" x2="193.50" y2="248.90" stroke="#555555" stroke-width="1.00" />
<line x1="232.60" y1="243.90" x2="232.60" y2="248.90" stroke="#555555" stroke-width="1.00" />
<line x1="271.70" y1="243.90" x2="271.70" y2="248.90" stroke="#555555" stroke-width="1.00" />
<line x1="310.80" y1="243.90" x2="310.80" y2="248.90" stroke="#555555" stroke-width="1.00" />
<path d="M187.70,239.89 L187.92,237.91 L188.30,238.13 L188.71,236.91 L189.19,236.40 L189.60,236.68 L189.94,238.05 L190.20,237.17 L190.51,236.60 L190.90,234.16 L191.25,230.30 L191.66,226.48 L192.10,223.16 L192.46,220.95 L192.86,218.44 L193.25,215.90 L193.60,214.56 L194.00,213.37 L194.36,214.60 L194.70,216.46 L195.19,220.99 L195.70,224.15 L196.08,226.83 L196.49,227.75 L196.90,228.71 L197.34,228.17 L197.79,226.94 L198.20,225.45 L198.68,224.60 L199.10,224.12 L199.54,226.51 L200.00,228.24 L200.48,227.49 L201.00,225.71 L201.41,227.05 L201.86,226.03 L202.30,227.86 L202.70,228.43 L203.10,227.63 L203.50,229.43 L203.92,231.20 L204.35,232.73 L204.80,233.21 L205.16,234.10 L205.53,235.33 L205.91,237.99 L206.30,237.88 L206.69,239.65 L207.09,239.90 L207.51,241.51 L208.00,243.01 L208.31,241.85 L208.64,243.31 L208.98,242.91 L209.34,243.71 L209.72,243.49 L210.10,242.76 L210.50,244.12 L210.86,243.54 L211.25,242.89 L211.65,243.03 L212.06,244.09 L212.46,244.19 L212.86,244.09 L213.24,243.94 L213.60,244.42 L214.07,244.48 L214.54,245.50 L214.99,244.03 L215.40,245.41 L215.75,245.59 L216.00,244.32 L216.50,246.79 L216.85,246.70 L217.20,245.94 L217.55,245.10 L217.90,246.81 L218.25,245.53 L218.60,246.84 L218.95,247.32 L219.30,245.71 L219.65,245.72 L220.00,247.25 L220.35,246.63 L220.70,245.08 L221.05,244.96 L221.40,245.02 L221.75,247.13 L222.10,246.86 L222.45,245.01 L222.80,246.91 L223.15,247.34 L223.50,246.44 L223.85,245.58 L224.20,246.14 L224.55,244.97 L224.90,244.64 L225.25,247.32 L225.60,246.42 L225.95,246.07 L226.30,247.21 L226.65,245.81 L227.00,247.04 L227.35,246.91 L227.70,245.19 L228.05,245.31 L228.40,245.42 L228.75,245.27 L229.10,246.24 L229.45,245.33 L229.80,245.77 L230.15,244.97 L230.50,247.15 L230.85,245.59 L231.20,245.88 L231.55,246.23 L231.90,247.13 L232.25,245.78 L232.60,247.17 L232.95,246.00 L233.30,246.09 L233.65,246.07 L234.00,244.65 L234.35,245.83 L234.70,245.11 L235.05,244.61 L235.40,246.84 L235.75,245.08 L236.10,245.93 L236.45,246.63 L236.80,246.16 L237.15,245.51 L237.50,246.05 L237.85,246.16 L238.20,246.80 L238.55,244.90 L238.90,246.17 L239.25,245.30 L239.60,245.38 L239.95,246.76 L240.30,246.02 L240.65,246.17 L241.00,246.73 L241.35,247.15 L241.70,245.84 L242.05,246.32 L242.40,246.02 L242.75,246.03 L243.10,246.54 L243.45,245.87 L243.80,246.09 L244.15,245.94 L244.50,247.24 L244.85,246.56 L245.20,247.05 L245.55,247.24 L245.90,245.33 L246.25,246.17 L246.60,247.24 L246.95,246.95 L247.30,244.98 L247.65,244.94 L248.00,245.84 L248.35,244.80 L248.70,245.27 L249.05,244.80 L249.40,246.47 L249.75,246.80 L250.10,247.11 L250.45,245.03 L250.80,246.61 L251.15,246.45 L251.50,245.00 L251.85,247.07 L252.20,247.31 L252.55,245.21 L252.90,247.27 L253.25,245.72 L253.60,245.96 L253.95,247.37 L254.30,246.93 L254.65,245.05 L255.00,245.81 L255.35,246.04 L255.70,245.55 L256.05,245.15 L256.40,245.49 L256.75,246.62 L257.10,244.65 L257.45,246.15 L257.80,245.83 L258.15,244.65 L258.50,245.53 L258.85,246.35 L259.20,246.03 L259.55,244.78 L259.90,247.36 L260.25,246.81 L260.60,247.32 L260.95,244.89 L261.30,245.34 L261.65,244.71 L262.00,246.78 L262.35,245.36 L262.70,244.96 L263.05,245.78 L263.40,247.15 L263.75,246.89 L264.10,245.32 L264.45,245.02 L264.80,247.17 L265.15,246.20 L265.50,246.56 L265.85,244.85 L266.20,244.76 L266.55,246.53 L266.90,245.79 L267.25,244.80 L267.60,247.23 L267.95,246.38 L268.30,246.84 L268.65,244.83 L269.00,247.00 L269.35,244.79 L269.70,247.02 L270.05,245.87 L270.40,245.55 L270.75,246.15 L271.10,247.19 L271.45,245.35 L271.80,244.96 L272.15,246.08 L272.50,245.27 L272.85,244.91 L273.20,245.05 L273.55,244.74 L273.90,245.16 L274.25,245.47 L274.60,245.45 L274.95,246.73 L275.30,245.41 L275.65,246.00 L276.00,245.10 L276.35,245.57 L276.70,244.65 L277.05,245.30 L277.40,244.64 L277.75,246.65 L278.10,246.14 L278.45,245.13 L278.80,245.93 L279.15,247.22 L279.50,244.90 L279.85,246.89 L280.20,245.81 L280.55,245.99 L280.90,246.94 L281.25,245.70 L281.60,246.02 L281.95,246.53 L282.30,247.35 L282.65,245.56 L283.00,246.93 L283.35,246.58 L283.70,246.38 L284.05,245.73 L284.40,245.57 L284.75,244.75 L285.10,244.96 L285.45,244.80 L285.80,246.67 L286.15,245.32 L286.50,245.06 L286.85,244.84 L287.20,246.96 L287.55,247.04 L287.90,246.48 L288.25,245.39 L288.60,245.28 L288.95,245.42 L289.30,245.89 L289.65,245.04 L290.00,245.85 L290.35,245.34 L290.70,247.29 L291.05,247.32 L291.40,246.13 L291.75,245.28 L292.10,247.30 L292.45,245.47 L292.80,245.60 L293.15,244.60 L293.50,245.67 L293.85,245.93 L294.20,246.01 L294.55,245.16 L294.90,246.01 L295.25,244.61 L295.60,245.34 L295.95,244.85 L296.30,245.72 L296.65,244.72 L297.00,244.66 L297.35,245.45 L297.70,245.25 L298.05,246.24 L298.40,246.08 L298.75,246.70 L299.10,246.44 L299.45,246.60 L299.80,247.06 L300.15,245.69 L300.50,245.51 L300.85,247.36 L301.20,245.02 L301.55,246.63 L301.90,246.40 L302.25,244.72 L302.60,246.94 L302.95,247.10 L303.30,246.36 L303.65,246.65 L304.00,246.87 L304.35,244.99 L304.70,246.07 L305.05,246.01 L305.40,246.94 L305.75,246.85 L306.10,246.91 L306.45,246.24 L306.80,247.10 L307.15,246.51 L307.50,246.54 L307.85,245.24 L308.20,244.69 L308.55,244.97 L308.90,245.61 L309.25,244.89 L309.60,246.94 L309.95,246.16 L310.30,246.36 L310.65,246.35 L311.00,246.51 L311.35,245.97 L311.70,244.61 L312.05,246.83 L312.40,246.70 L312.75,246.01 L313.10,246.10" fill="none" stroke="#ff4d55" stroke-width="1.90" stroke-linejoin="round" stroke-linecap="round" />
<clipPath id="ins3"><rect x="222.20" y="210.00" width="91.40" height="14.60"/></clipPath>
<g clip-path="url(#ins3)">
<rect x="222.20" y="210.00" width="91.40" height="14.60" fill="#0e0000"/>
<ellipse cx="228.2" cy="217.5" rx="5.6" ry="6.0" fill="#c01000" filter="url(#bl2)"/>
<ellipse cx="227.8" cy="217.6" rx="4.4" ry="4.8" fill="#ff5a00" filter="url(#bl1)"/>
<ellipse cx="227.0" cy="217.9" rx="3.0" ry="3.2" fill="#ffc020" filter="url(#bl1)"/>
<ellipse cx="226.2" cy="218.2" rx="1.6" ry="1.8" fill="#fff8c0" filter="url(#bl1)"/>
<ellipse cx="229.5" cy="216.2" rx="1.2" ry="1.2" fill="#ffd040" filter="url(#bl1)"/>
</g>
<text x="248.20" y="239.20" font-size="12.30" text-anchor="start" fill="#000" ><tspan font-style="italic">U</tspan> / <tspan font-style="italic">K</tspan> = 4.8</text>
<line x1="182.60" y1="254.20" x2="311.80" y2="254.20" stroke="#555555" stroke-width="1.30" />
<line x1="311.30" y1="253.70" x2="311.30" y2="293.40" stroke="#666666" stroke-width="1.40" />
<line x1="183.10" y1="253.70" x2="183.10" y2="293.40" stroke="#555555" stroke-width="1.30" />
<line x1="182.60" y1="292.90" x2="311.80" y2="292.90" stroke="#666666" stroke-width="1.40" />
<line x1="183.10" y1="289.70" x2="189.40" y2="289.70" stroke="#555555" stroke-width="1.00" />
<line x1="183.10" y1="264.30" x2="189.40" y2="264.30" stroke="#555555" stroke-width="1.00" />
<line x1="183.10" y1="277.00" x2="186.60" y2="277.00" stroke="#555555" stroke-width="1.00" />
<line x1="192.90" y1="287.90" x2="192.90" y2="292.90" stroke="#555555" stroke-width="1.00" />
<line x1="231.57" y1="287.90" x2="231.57" y2="292.90" stroke="#555555" stroke-width="1.00" />
<line x1="270.23" y1="287.90" x2="270.23" y2="292.90" stroke="#555555" stroke-width="1.00" />
<line x1="308.90" y1="287.90" x2="308.90" y2="292.90" stroke="#555555" stroke-width="1.00" />
<path d="M185.10,289.90 C185.50,289.58 186.82,289.48 187.50,288.00 C188.18,286.52 188.62,284.83 189.20,281.00 C189.78,277.17 190.38,269.30 191.00,265.00 C191.62,260.70 192.30,255.70 192.90,255.20 C193.50,254.70 194.05,258.20 194.60,262.00 C195.15,265.80 195.63,273.73 196.20,278.00 C196.77,282.27 197.37,286.93 198.00,287.60 C198.63,288.27 199.25,283.83 200.00,282.00 C200.75,280.17 201.70,276.68 202.50,276.60 C203.30,276.52 204.02,279.43 204.80,281.50 C205.58,283.57 206.33,287.72 207.20,289.00 C208.07,290.28 209.08,289.23 210.00,289.20 C210.92,289.17 211.70,288.73 212.70,288.80 C213.70,288.87 213.95,289.42 216.00,289.60 C218.05,289.78 209.20,289.85 225.00,289.90 C240.80,289.95 296.50,289.90 310.80,289.90" fill="none" stroke="#0f57ad" stroke-width="2.00" stroke-linejoin="round" stroke-linecap="round" />
<clipPath id="ins4"><rect x="219.90" y="254.00" width="91.40" height="14.80"/></clipPath>
<g clip-path="url(#ins4)">
<rect x="219.90" y="254.00" width="91.40" height="14.80" fill="#00008f"/>
<ellipse cx="224.70" cy="261.50" rx="3.40" ry="3.40" fill="url(#jetR)"/>
<ellipse cx="232.20" cy="261.50" rx="2.90" ry="2.90" fill="url(#jetC)"/>
<ellipse cx="239.40" cy="261.50" rx="2.00" ry="2.00" fill="url(#jetD)"/>
</g>
<text x="247.20" y="282.80" font-size="12.30" text-anchor="start" fill="#000" ><tspan font-style="italic">U</tspan> / <tspan font-style="italic">K</tspan> = 4.8</text>
<line x1="396.40" y1="210.40" x2="525.80" y2="210.40" stroke="#555555" stroke-width="1.30" />
<line x1="525.30" y1="209.90" x2="525.30" y2="249.20" stroke="#666666" stroke-width="1.40" />
<line x1="396.90" y1="209.90" x2="396.90" y2="249.20" stroke="#999999" stroke-width="1.50" />
<line x1="396.40" y1="248.70" x2="525.80" y2="248.70" stroke="#999999" stroke-width="1.50" />
<line x1="396.90" y1="246.30" x2="403.20" y2="246.30" stroke="#555555" stroke-width="1.00" />
<line x1="396.90" y1="220.70" x2="403.20" y2="220.70" stroke="#555555" stroke-width="1.00" />
<line x1="396.90" y1="233.50" x2="400.40" y2="233.50" stroke="#555555" stroke-width="1.00" />
<line x1="406.20" y1="243.70" x2="406.20" y2="248.70" stroke="#555555" stroke-width="1.00" />
<line x1="445.43" y1="243.70" x2="445.43" y2="248.70" stroke="#555555" stroke-width="1.00" />
<line x1="484.67" y1="243.70" x2="484.67" y2="248.70" stroke="#555555" stroke-width="1.00" />
<line x1="523.90" y1="243.70" x2="523.90" y2="248.70" stroke="#555555" stroke-width="1.00" />
<path d="M401.10,243.71 L401.67,244.21 L402.47,244.32 L403.20,244.27 L403.96,242.87 L404.70,240.91 L405.34,239.14 L406.04,237.26 L406.70,235.93 L407.53,236.56 L408.30,238.46 L409.06,240.54 L409.80,242.43 L410.58,241.72 L411.30,241.57 L411.84,242.34 L412.30,244.25 L412.74,245.77 L413.20,246.08 L413.73,243.05 L414.40,239.25 L415.02,237.29 L415.73,235.30 L416.40,233.87 L417.23,234.60 L418.00,237.31 L418.66,241.56 L419.50,245.43 L420.04,246.14 L420.70,246.88 L421.40,246.79 L422.06,247.01 L422.60,246.98 L423.42,245.86 L424.10,243.59 L424.73,242.17 L425.41,240.32 L426.10,239.44 L426.81,240.21 L427.54,242.28 L428.20,243.62 L428.98,245.05 L429.70,245.91 L430.50,245.71 L431.30,245.10 L432.06,245.79 L432.80,245.85 L433.53,243.15 L434.30,239.66 L434.91,237.20 L435.57,235.26 L436.20,234.70 L437.07,236.63 L437.90,240.01 L438.66,243.07 L439.40,246.18 L440.17,246.69 L441.00,246.30 L441.67,246.19 L442.39,246.65 L443.00,245.89 L443.52,244.53 L444.00,242.24 L444.77,240.56 L445.60,240.06 L446.36,240.96 L447.10,243.27 L447.75,244.84 L448.60,246.11 L449.12,246.40 L449.72,246.65 L450.38,246.80 L451.05,246.83 L451.70,246.09 L452.34,245.69 L452.99,244.77 L453.64,244.35 L454.25,243.13 L454.80,242.73 L455.53,243.20 L456.13,244.51 L456.80,245.74 L457.40,246.08 L458.04,246.21 L458.71,246.52 L459.40,246.56 L459.99,246.24 L460.61,246.15 L461.25,246.56 L461.85,246.33 L462.40,245.72 L463.17,245.44 L463.84,244.41 L464.50,243.92 L465.25,244.14 L465.99,244.64 L466.50,245.00 L467.00,246.60 L467.60,246.30 L468.20,246.56 L468.80,245.71 L469.40,245.82 L470.00,245.85 L470.60,246.69 L471.20,246.10 L471.80,245.71 L472.40,245.60 L473.00,244.98 L473.60,244.16 L474.20,243.95 L474.80,245.13 L475.40,244.82 L476.00,246.19 L476.60,245.51 L477.20,245.64 L477.80,246.01 L478.40,245.56 L479.00,245.82 L479.60,246.64 L480.20,246.54 L480.80,246.43 L481.40,246.17 L482.00,246.50 L482.60,246.38 L483.20,245.50 L483.80,245.34 L484.40,244.17 L485.00,245.25 L485.60,245.23 L486.20,246.02 L486.80,246.09 L487.40,245.67 L488.00,245.36 L488.60,246.59 L489.20,245.47 L489.80,245.91 L490.40,245.60 L491.00,245.26 L491.60,245.46 L492.20,245.40 L492.80,244.27 L493.40,245.06 L494.00,245.00 L494.60,245.74 L495.20,245.73 L495.80,245.50 L496.40,245.52 L497.00,245.59 L497.60,246.57 L498.20,246.00 L498.80,245.61 L499.40,246.57 L500.00,246.68 L500.60,245.87 L501.20,245.31 L501.80,245.15 L502.40,244.75 L503.00,244.98 L503.60,244.75 L504.20,245.21 L504.80,245.47 L505.40,246.04 L506.00,246.53 L506.60,246.35 L507.20,245.88 L507.80,245.88 L508.40,246.03 L509.00,245.81 L509.60,245.72 L510.20,245.22 L510.80,245.32 L511.40,246.06 L512.00,244.78 L512.60,245.41 L513.20,245.81 L513.80,246.34 L514.40,245.55 L515.00,245.67 L515.60,245.65 L516.20,245.86 L516.80,245.92 L517.40,246.64 L518.00,246.49 L518.60,246.52 L519.20,245.33 L519.80,245.35 L520.40,246.29 L521.00,246.55 L521.60,245.96 L522.20,246.12 L522.80,245.30 L523.40,245.85 L524.00,246.60 L524.60,246.46" fill="none" stroke="#ff4d55" stroke-width="1.90" stroke-linejoin="round" stroke-linecap="round" />
<clipPath id="ins5"><rect x="434.10" y="210.00" width="91.20" height="14.30"/></clipPath>
<g clip-path="url(#ins5)">
<rect x="434.10" y="210.00" width="91.20" height="14.30" fill="#0e0000"/>
<ellipse cx="438.50" cy="217.50" rx="3.00" ry="5.00" fill="url(#hotW)" filter="url(#bl1)"/>
<ellipse cx="445.30" cy="217.50" rx="2.60" ry="4.40" fill="url(#hotW)" filter="url(#bl1)"/>
<ellipse cx="452.30" cy="217.50" rx="2.30" ry="3.60" fill="url(#hotY)" filter="url(#bl1)"/>
<ellipse cx="459.90" cy="217.50" rx="2.60" ry="4.40" fill="url(#hotW)" filter="url(#bl1)"/>
<ellipse cx="466.90" cy="217.50" rx="2.30" ry="3.60" fill="url(#hotY)" filter="url(#bl1)"/>
<ellipse cx="473.50" cy="217.50" rx="2.00" ry="3.20" fill="url(#hotO)" filter="url(#bl1)"/>
<ellipse cx="481.10" cy="217.50" rx="1.60" ry="2.60" fill="url(#hotD)" filter="url(#bl1)"/>
<ellipse cx="488.40" cy="217.50" rx="1.60" ry="2.60" fill="url(#hotR)" filter="url(#bl1)"/>
<ellipse cx="495.40" cy="217.50" rx="1.80" ry="2.90" fill="url(#hotR)" filter="url(#bl1)"/>
<ellipse cx="502.30" cy="217.50" rx="1.60" ry="2.60" fill="url(#hotD)" filter="url(#bl1)"/>
<ellipse cx="509.60" cy="217.50" rx="1.40" ry="2.20" fill="url(#hotD)" filter="url(#bl1)"/>
<ellipse cx="516.90" cy="217.50" rx="1.20" ry="2.00" fill="url(#hotD)" filter="url(#bl1)"/>
</g>
<text x="467.60" y="237.90" font-size="12.30" text-anchor="start" fill="#000" ><tspan font-style="italic">U</tspan> / <tspan font-style="italic">K</tspan> = 0</text>
<line x1="396.00" y1="254.10" x2="525.10" y2="254.10" stroke="#555555" stroke-width="1.30" />
<line x1="524.60" y1="253.60" x2="524.60" y2="292.70" stroke="#666666" stroke-width="1.40" />
<line x1="396.50" y1="253.60" x2="396.50" y2="292.70" stroke="#555555" stroke-width="1.30" />
<line x1="396.00" y1="292.20" x2="525.10" y2="292.20" stroke="#666666" stroke-width="1.40" />
<line x1="396.50" y1="289.80" x2="402.80" y2="289.80" stroke="#555555" stroke-width="1.00" />
<line x1="396.50" y1="264.50" x2="402.80" y2="264.50" stroke="#555555" stroke-width="1.00" />
<line x1="396.50" y1="277.15" x2="400.00" y2="277.15" stroke="#555555" stroke-width="1.00" />
<line x1="406.20" y1="287.20" x2="406.20" y2="292.20" stroke="#555555" stroke-width="1.00" />
<line x1="444.73" y1="287.20" x2="444.73" y2="292.20" stroke="#555555" stroke-width="1.00" />
<line x1="483.27" y1="287.20" x2="483.27" y2="292.20" stroke="#555555" stroke-width="1.00" />
<line x1="521.80" y1="287.20" x2="521.80" y2="292.20" stroke="#555555" stroke-width="1.00" />
<path d="M400.10,290.20 C400.43,290.07 401.42,290.22 402.10,289.40 C402.78,288.58 403.52,286.43 404.20,285.30 C404.88,284.17 405.52,282.60 406.20,282.60 C406.88,282.60 407.53,284.25 408.30,285.30 C409.07,286.35 409.95,288.90 410.80,288.90 C411.65,288.90 412.60,286.40 413.40,285.30 C414.20,284.20 414.83,282.22 415.60,282.30 C416.37,282.38 417.18,284.65 418.00,285.80 C418.82,286.95 419.65,288.97 420.50,289.20 C421.35,289.43 422.28,287.85 423.10,287.20 C423.92,286.55 424.63,285.27 425.40,285.30 C426.17,285.33 426.90,286.68 427.70,287.40 C428.50,288.12 429.38,289.52 430.20,289.60 C431.02,289.68 431.83,288.48 432.60,287.90 C433.37,287.32 434.00,286.10 434.80,286.10 C435.60,286.10 436.55,287.32 437.40,287.90 C438.25,288.48 439.10,289.60 439.90,289.60 C440.70,289.60 441.43,288.57 442.20,287.90 C442.97,287.23 443.68,285.60 444.50,285.60 C445.32,285.60 446.25,287.30 447.10,287.90 C447.95,288.50 448.78,289.63 449.60,289.20 C450.42,288.77 451.23,286.70 452.00,285.30 C452.77,283.90 453.48,280.97 454.20,280.80 C454.92,280.63 455.53,282.95 456.30,284.30 C457.07,285.65 457.95,288.30 458.80,288.90 C459.65,289.50 460.52,288.45 461.40,287.90 C462.28,287.35 462.97,285.43 464.10,285.60 C465.23,285.77 466.67,288.58 468.20,288.90 C469.73,289.22 471.60,287.42 473.30,287.50 C475.00,287.58 476.73,289.77 478.40,289.40 C480.07,289.03 481.93,285.30 483.30,285.30 C484.67,285.30 485.03,288.90 486.60,289.40 C488.17,289.90 490.83,288.22 492.70,288.30 C494.57,288.38 495.58,289.68 497.80,289.90 C500.02,290.12 503.62,289.73 506.00,289.60 C508.38,289.47 510.23,289.05 512.10,289.10 C513.97,289.15 515.18,289.77 517.20,289.90 C519.22,290.03 523.03,289.90 524.20,289.90" fill="none" stroke="#0f57ad" stroke-width="2.00" stroke-linejoin="round" stroke-linecap="round" />
<clipPath id="ins6"><rect x="433.90" y="253.80" width="90.70" height="14.60"/></clipPath>
<g clip-path="url(#ins6)">
<rect x="433.90" y="253.80" width="90.70" height="14.60" fill="#00008f"/>
<ellipse cx="438.20" cy="261.30" rx="3.30" ry="3.30" fill="url(#jetR)"/>
<ellipse cx="445.60" cy="261.30" rx="3.20" ry="3.20" fill="url(#jetO)"/>
<ellipse cx="452.80" cy="261.30" rx="2.90" ry="2.90" fill="url(#jetG)"/>
<ellipse cx="460.20" cy="261.30" rx="2.80" ry="2.80" fill="url(#jetC)"/>
<ellipse cx="467.40" cy="261.30" rx="2.90" ry="2.90" fill="url(#jetG)"/>
<ellipse cx="474.70" cy="261.30" rx="3.30" ry="3.30" fill="url(#jetR)"/>
<ellipse cx="481.90" cy="261.30" rx="2.80" ry="2.80" fill="url(#jetC)"/>
<ellipse cx="488.90" cy="261.30" rx="2.40" ry="2.40" fill="url(#jetB)"/>
<ellipse cx="496.10" cy="261.30" rx="2.80" ry="2.80" fill="url(#jetC)"/>
<ellipse cx="503.40" cy="261.30" rx="2.00" ry="2.00" fill="url(#jetB)"/>
<ellipse cx="518.00" cy="261.30" rx="2.00" ry="2.00" fill="url(#jetD)"/>
</g>
<text x="467.60" y="281.60" font-size="12.30" text-anchor="start" fill="#000" ><tspan font-style="italic">U</tspan> / <tspan font-style="italic">K</tspan> = 0</text>
<line x1="533.10" y1="210.10" x2="663.30" y2="210.10" stroke="#555555" stroke-width="1.30" />
<line x1="662.80" y1="209.60" x2="662.80" y2="249.40" stroke="#666666" stroke-width="1.40" />
<line x1="533.60" y1="209.60" x2="533.60" y2="249.40" stroke="#555555" stroke-width="1.30" />
<line x1="533.10" y1="248.90" x2="663.30" y2="248.90" stroke="#666666" stroke-width="1.40" />
<line x1="533.60" y1="246.30" x2="539.90" y2="246.30" stroke="#555555" stroke-width="1.00" />
<line x1="533.60" y1="220.50" x2="539.90" y2="220.50" stroke="#555555" stroke-width="1.00" />
<line x1="533.60" y1="233.40" x2="537.10" y2="233.40" stroke="#555555" stroke-width="1.00" />
<line x1="543.40" y1="243.90" x2="543.40" y2="248.90" stroke="#555555" stroke-width="1.00" />
<line x1="582.53" y1="243.90" x2="582.53" y2="248.90" stroke="#555555" stroke-width="1.00" />
<line x1="621.67" y1="243.90" x2="621.67" y2="248.90" stroke="#555555" stroke-width="1.00" />
<line x1="660.80" y1="243.90" x2="660.80" y2="248.90" stroke="#555555" stroke-width="1.00" />
<path d="M537.70,241.31 L537.92,240.64 L538.30,239.06 L538.68,237.65 L539.14,237.96 L539.60,238.20 L540.01,237.67 L540.42,236.29 L540.90,234.45 L541.25,233.78 L541.65,233.69 L542.06,232.95 L542.46,230.20 L542.80,230.32 L543.23,229.42 L543.57,226.88 L544.00,227.68 L544.34,225.96 L544.74,226.81 L545.15,226.67 L545.55,226.78 L545.90,226.01 L546.38,225.62 L546.79,225.25 L547.20,224.95 L547.64,226.72 L548.07,228.30 L548.50,230.08 L548.90,230.80 L549.30,233.32 L549.70,233.28 L550.13,231.07 L550.56,229.32 L551.00,226.96 L551.44,224.60 L551.87,222.73 L552.30,223.15 L552.68,224.14 L553.05,227.03 L553.50,230.06 L553.84,230.23 L554.21,231.54 L554.61,232.17 L555.01,231.74 L555.40,233.57 L555.79,233.29 L556.19,235.52 L556.58,236.56 L556.96,236.94 L557.30,236.81 L557.73,238.79 L558.10,239.42 L558.60,241.20 L558.90,239.78 L559.24,241.41 L559.62,241.83 L560.01,241.39 L560.39,241.57 L560.76,240.26 L561.10,241.66 L561.52,240.11 L561.90,240.13 L562.27,239.07 L562.63,236.78 L563.00,237.68 L563.37,238.16 L563.73,236.99 L564.10,238.35 L564.48,240.03 L564.90,239.62 L565.22,241.64 L565.57,241.02 L565.92,242.75 L566.29,242.04 L566.66,243.33 L567.03,244.63 L567.40,243.52 L567.77,243.77 L568.14,244.25 L568.51,243.78 L568.89,243.04 L569.26,243.13 L569.63,242.89 L570.00,244.27 L570.36,243.59 L570.72,243.79 L571.08,242.10 L571.43,243.09 L571.79,241.56 L572.14,242.27 L572.50,242.47 L572.85,242.03 L573.18,243.28 L573.50,242.94 L573.84,243.33 L574.19,244.28 L574.57,243.05 L575.00,245.09 L575.33,244.52 L575.68,244.20 L576.04,245.16 L576.43,244.25 L576.82,245.84 L577.22,245.14 L577.62,244.81 L578.02,245.72 L578.41,245.14 L578.80,244.65 L579.18,245.79 L579.56,244.37 L579.94,245.84 L580.32,244.62 L580.70,245.29 L581.08,245.88 L581.46,244.99 L581.84,245.07 L582.22,244.33 L582.60,243.70 L582.97,243.81 L583.34,244.12 L583.70,245.16 L584.06,244.92 L584.42,245.21 L584.79,246.12 L585.16,244.72 L585.56,245.02 L585.97,245.96 L586.40,244.74 L586.74,244.72 L587.10,245.42 L587.50,244.91 L587.91,245.39 L588.33,245.09 L588.76,245.77 L589.19,245.74 L589.60,244.93 L590.00,245.72 L590.38,245.38 L590.72,244.65 L591.03,246.22 L591.29,244.81 L591.50,244.60 L592.00,245.38 L592.35,245.58 L592.70,247.28 L593.05,244.95 L593.40,247.30 L593.75,245.18 L594.10,245.60 L594.45,246.90 L594.80,246.90 L595.15,245.81 L595.50,244.74 L595.85,245.93 L596.20,245.64 L596.55,247.17 L596.90,245.14 L597.25,245.62 L597.60,247.11 L597.95,244.68 L598.30,245.75 L598.65,246.87 L599.00,246.75 L599.35,244.71 L599.70,244.70 L600.05,244.78 L600.40,247.18 L600.75,245.32 L601.10,246.69 L601.45,247.12 L601.80,245.55 L602.15,245.36 L602.50,247.28 L602.85,246.33 L603.20,245.33 L603.55,246.60 L603.90,245.47 L604.25,245.35 L604.60,244.57 L604.95,246.64 L605.30,247.04 L605.65,246.17 L606.00,246.95 L606.35,244.26 L606.70,244.73 L607.05,245.29 L607.40,246.55 L607.75,246.48 L608.10,244.88 L608.45,244.54 L608.80,245.12 L609.15,245.41 L609.50,246.74 L609.85,244.77 L610.20,246.61 L610.55,246.51 L610.90,246.81 L611.25,246.71 L611.60,246.27 L611.95,245.50 L612.30,245.49 L612.65,245.61 L613.00,246.79 L613.35,244.82 L613.70,245.15 L614.05,246.70 L614.40,245.28 L614.75,244.75 L615.10,244.65 L615.45,246.07 L615.80,245.38 L616.15,247.14 L616.50,246.76 L616.85,246.92 L617.20,244.71 L617.55,243.99 L617.90,243.78 L618.25,244.65 L618.60,244.98 L618.95,244.01 L619.30,243.22 L619.65,243.61 L620.00,244.14 L620.35,244.33 L620.70,244.66 L621.05,245.13 L621.40,244.85 L621.75,243.59 L622.10,245.87 L622.45,244.58 L622.80,245.56 L623.15,245.19 L623.50,246.36 L623.85,244.95 L624.20,245.16 L624.55,245.21 L624.90,244.98 L625.25,247.05 L625.60,246.20 L625.95,245.51 L626.30,245.70 L626.65,247.38 L627.00,246.02 L627.35,245.24 L627.70,246.86 L628.05,246.41 L628.40,247.34 L628.75,244.83 L629.10,245.83 L629.45,246.74 L629.80,246.71 L630.15,246.82 L630.50,244.26 L630.85,244.85 L631.20,244.25 L631.55,244.37 L631.90,246.53 L632.25,245.45 L632.60,246.47 L632.95,245.00 L633.30,246.50 L633.65,245.45 L634.00,245.03 L634.35,246.58 L634.70,247.12 L635.05,244.82 L635.40,246.22 L635.75,246.31 L636.10,245.20 L636.45,245.63 L636.80,244.99 L637.15,245.17 L637.50,245.31 L637.85,246.28 L638.20,246.42 L638.55,245.17 L638.90,244.63 L639.25,245.52 L639.60,246.50 L639.95,245.12 L640.30,245.47 L640.65,245.17 L641.00,246.83 L641.35,246.13 L641.70,244.78 L642.05,244.88 L642.40,245.71 L642.75,246.14 L643.10,246.39 L643.45,244.86 L643.80,245.06 L644.15,246.55 L644.50,245.75 L644.85,245.39 L645.20,245.46 L645.55,247.27 L645.90,245.47 L646.25,246.19 L646.60,245.60 L646.95,245.77 L647.30,247.02 L647.65,247.39 L648.00,245.62 L648.35,245.15 L648.70,246.64 L649.05,245.17 L649.40,244.62 L649.75,247.12 L650.10,245.79 L650.45,246.90 L650.80,245.74 L651.15,247.07 L651.50,245.89 L651.85,245.06 L652.20,244.64 L652.55,246.14 L652.90,246.39 L653.25,247.15 L653.60,244.85 L653.95,246.34 L654.30,245.64 L654.65,246.01 L655.00,245.01 L655.35,245.39 L655.70,246.06 L656.05,247.19 L656.40,244.90 L656.75,245.97 L657.10,246.85 L657.45,247.31 L657.80,245.15 L658.15,244.95 L658.50,247.24 L658.85,247.33 L659.20,245.95 L659.55,244.75 L659.90,247.19 L660.25,245.69 L660.60,247.13 L660.95,246.34 L661.30,246.91 L661.65,245.05 L662.00,246.80 L662.35,245.22" fill="none" stroke="#ff4d55" stroke-width="1.90" stroke-linejoin="round" stroke-linecap="round" />
<clipPath id="ins7"><rect x="571.00" y="210.00" width="91.80" height="14.60"/></clipPath>
<g clip-path="url(#ins7)">
<rect x="571.00" y="210.00" width="91.80" height="14.60" fill="#0e0000"/>
<ellipse cx="582.0" cy="217.3" rx="10.5" ry="6.4" fill="#900600" filter="url(#bl2)" opacity="0.8"/>
<ellipse cx="578.6" cy="217.5" rx="7.4" ry="6.2" fill="#f03000" filter="url(#bl2)"/>
<ellipse cx="578.2" cy="217.8" rx="6.0" ry="4.8" fill="#ff9000" filter="url(#bl1)"/>
<ellipse cx="577.8" cy="218.1" rx="4.6" ry="3.6" fill="#ffd828" filter="url(#bl1)"/>
<ellipse cx="576.6" cy="218.8" rx="1.8" ry="1.6" fill="#fff8b0" filter="url(#bl1)"/>
<ellipse cx="580.6" cy="217.4" rx="1.5" ry="1.6" fill="#fff090" filter="url(#bl1)"/>
<ellipse cx="587.5" cy="216.5" rx="1.2" ry="1.4" fill="#d02000" filter="url(#bl1)"/>
</g>
<text x="595.60" y="237.20" font-size="12.30" text-anchor="start" fill="#000" ><tspan font-style="italic">U</tspan> / <tspan font-style="italic">K</tspan> = 4.8</text>
<line x1="532.60" y1="254.10" x2="661.90" y2="254.10" stroke="#555555" stroke-width="1.30" />
<line x1="661.40" y1="253.60" x2="661.40" y2="293.40" stroke="#666666" stroke-width="1.40" />
<line x1="533.10" y1="253.60" x2="533.10" y2="293.40" stroke="#555555" stroke-width="1.30" />
<line x1="532.60" y1="292.90" x2="661.90" y2="292.90" stroke="#666666" stroke-width="1.40" />
<line x1="533.10" y1="289.80" x2="539.40" y2="289.80" stroke="#555555" stroke-width="1.00" />
<line x1="533.10" y1="264.40" x2="539.40" y2="264.40" stroke="#555555" stroke-width="1.00" />
<line x1="533.10" y1="277.10" x2="536.60" y2="277.10" stroke="#555555" stroke-width="1.00" />
<line x1="542.90" y1="287.90" x2="542.90" y2="292.90" stroke="#555555" stroke-width="1.00" />
<line x1="581.60" y1="287.90" x2="581.60" y2="292.90" stroke="#555555" stroke-width="1.00" />
<line x1="620.30" y1="287.90" x2="620.30" y2="292.90" stroke="#555555" stroke-width="1.00" />
<line x1="659.00" y1="287.90" x2="659.00" y2="292.90" stroke="#555555" stroke-width="1.00" />
<path d="M535.10,289.90 C535.50,289.68 536.60,290.25 537.50,288.60 C538.40,286.95 539.60,282.52 540.50,280.00 C541.40,277.48 542.12,273.58 542.90,273.50 C543.68,273.42 544.45,277.15 545.20,279.50 C545.95,281.85 546.60,287.85 547.40,287.60 C548.20,287.35 549.15,281.37 550.00,278.00 C550.85,274.63 551.67,267.57 552.50,267.40 C553.33,267.23 554.15,273.63 555.00,277.00 C555.85,280.37 556.77,286.18 557.60,287.60 C558.43,289.02 559.22,286.22 560.00,285.50 C560.78,284.78 561.53,283.13 562.30,283.30 C563.07,283.47 563.85,285.52 564.60,286.50 C565.35,287.48 565.57,288.68 566.80,289.20 C568.03,289.72 570.38,289.60 572.00,289.60 C573.62,289.60 574.98,289.50 576.50,289.20 C578.02,288.90 579.60,287.78 581.10,287.80 C582.60,287.82 583.87,289.37 585.50,289.30 C587.13,289.23 589.23,287.40 590.90,287.40 C592.57,287.40 593.90,289.07 595.50,289.30 C597.10,289.53 598.75,288.75 600.50,288.80 C602.25,288.85 603.58,289.42 606.00,289.60 C608.42,289.78 605.83,289.85 615.00,289.90 C624.17,289.95 653.33,289.90 661.00,289.90" fill="none" stroke="#0f57ad" stroke-width="2.00" stroke-linejoin="round" stroke-linecap="round" />
<clipPath id="ins8"><rect x="570.20" y="254.00" width="91.20" height="14.60"/></clipPath>
<g clip-path="url(#ins8)">
<rect x="570.20" y="254.00" width="91.20" height="14.60" fill="#00008f"/>
<ellipse cx="574.90" cy="261.30" rx="3.30" ry="3.30" fill="url(#jetY)"/>
<ellipse cx="582.10" cy="261.30" rx="3.40" ry="3.40" fill="url(#jetR)"/>
<ellipse cx="589.20" cy="261.30" rx="2.80" ry="2.80" fill="url(#jetC)"/>
<ellipse cx="603.90" cy="261.30" rx="2.20" ry="2.20" fill="url(#jetD)"/>
<ellipse cx="611.00" cy="261.30" rx="2.40" ry="2.40" fill="url(#jetB)"/>
<ellipse cx="618.10" cy="261.30" rx="2.10" ry="2.10" fill="url(#jetD)"/>
</g>
<text x="595.30" y="281.60" font-size="12.30" text-anchor="start" fill="#000" ><tspan font-style="italic">U</tspan> / <tspan font-style="italic">K</tspan> = 4.8</text>
<text x="40.60" y="224.10" font-size="12.30" text-anchor="end" fill="#000" >0.5</text>
<text x="40.60" y="249.10" font-size="12.30" text-anchor="end" fill="#000" >0</text>
<text x="40.60" y="267.90" font-size="12.30" text-anchor="end" fill="#000" >0.5</text>
<text x="40.60" y="292.60" font-size="12.30" text-anchor="end" fill="#000" >0</text>
<text x="389.60" y="225.30" font-size="12.30" text-anchor="end" fill="#000" >0.5</text>
<text x="389.60" y="250.60" font-size="12.30" text-anchor="end" fill="#000" >0</text>
<text x="389.60" y="268.10" font-size="12.30" text-anchor="end" fill="#000" >0.5</text>
<text x="389.60" y="292.80" font-size="12.30" text-anchor="end" fill="#000" >0</text>
<text x="59.20" y="309.20" font-size="12.30" text-anchor="middle" fill="#000" >0</text>
<text x="97.75" y="309.20" font-size="12.30" text-anchor="middle" fill="#000" >4</text>
<text x="136.35" y="309.20" font-size="12.30" text-anchor="middle" fill="#000" >8</text>
<text x="174.00" y="309.20" font-size="12.30" text-anchor="middle" fill="#000" >12</text>
<text x="193.30" y="309.20" font-size="12.30" text-anchor="middle" fill="#000" >0</text>
<text x="231.70" y="309.20" font-size="12.30" text-anchor="middle" fill="#000" >4</text>
<text x="270.00" y="309.20" font-size="12.30" text-anchor="middle" fill="#000" >8</text>
<text x="308.20" y="309.20" font-size="12.30" text-anchor="middle" fill="#000" >12</text>
<text x="407.20" y="309.20" font-size="12.30" text-anchor="middle" fill="#000" >0</text>
<text x="445.70" y="309.20" font-size="12.30" text-anchor="middle" fill="#000" >4</text>
<text x="484.10" y="309.20" font-size="12.30" text-anchor="middle" fill="#000" >8</text>
<text x="521.60" y="309.20" font-size="12.30" text-anchor="middle" fill="#000" >12</text>
<text x="542.20" y="309.20" font-size="12.30" text-anchor="middle" fill="#000" >0</text>
<text x="580.30" y="309.20" font-size="12.30" text-anchor="middle" fill="#000" >4</text>
<text x="617.90" y="309.20" font-size="12.30" text-anchor="middle" fill="#000" >8</text>
<text x="656.70" y="309.20" font-size="12.30" text-anchor="middle" fill="#000" >12</text>
<text x="92.60" y="328.4" font-size="12.3"><tspan font-style="italic">p</tspan><tspan font-size="9" dy="3.0" font-style="italic">n</tspan><tspan dy="-3.0" dx="1.0">/</tspan><tspan dx="1.3">2</tspan><tspan dx="1.4" font-style="italic">&#295;</tspan><tspan dx="0.2" font-style="italic">k</tspan></text>
<text x="228.30" y="328.4" font-size="12.3"><tspan font-style="italic">p</tspan><tspan font-size="9" dy="3.0" font-style="italic">n</tspan><tspan dy="-3.0" dx="1.0">/</tspan><tspan dx="1.3">2</tspan><tspan dx="1.4" font-style="italic">&#295;</tspan><tspan dx="0.2" font-style="italic">k</tspan></text>
<text x="441.50" y="328.4" font-size="12.3"><tspan font-style="italic">p</tspan><tspan font-size="9" dy="3.0" font-style="italic">n</tspan><tspan dy="-3.0" dx="1.0">/</tspan><tspan dx="1.3">2</tspan><tspan dx="1.4" font-style="italic">&#295;</tspan><tspan dx="0.2" font-style="italic">k</tspan></text>
<text x="578.40" y="328.4" font-size="12.3"><tspan font-style="italic">p</tspan><tspan font-size="9" dy="3.0" font-style="italic">n</tspan><tspan dy="-3.0" dx="1.0">/</tspan><tspan dx="1.3">2</tspan><tspan dx="1.4" font-style="italic">&#295;</tspan><tspan dx="0.2" font-style="italic">k</tspan></text>
<text transform="translate(13.60,258.3) rotate(-90)" font-size="12.3">OD</text>
<text transform="translate(363.50,258.3) rotate(-90)" font-size="12.3">OD</text>
</svg>
</body></html>
